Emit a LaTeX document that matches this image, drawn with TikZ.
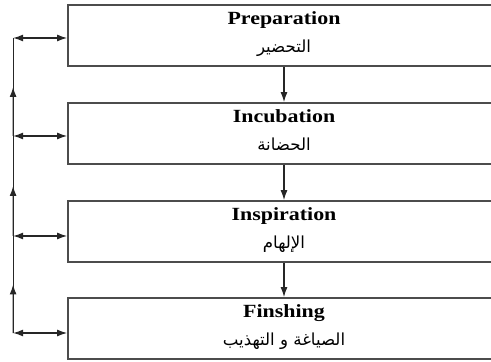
\documentclass[tikz,border=0pt]{standalone}
\usepackage{fontspec}
\usepackage{tikz}
\usetikzlibrary{arrows.meta,calc}
\TeXXeTstate=1
\newfontfamily\titlefont[FakeStretch=1.18]{Liberation Serif Bold}
\newfontfamily\arabicfont[Script=Arabic]{DejaVu Sans}

\begin{document}
\begin{tikzpicture}[x=0.5pt, y=-0.5pt, >={Latex[length=5pt,width=3.5pt]},
	stage/.style={draw=black!70, line width=0.9pt, minimum width=216pt, minimum height=30.5pt, inner sep=0pt},
	title/.style={font=\titlefont\fontsize{9.3}{11}\selectfont, anchor=base, inner sep=0pt},
	arab/.style={font=\arabicfont\fontsize{8.3}{10}\selectfont, anchor=base, inner sep=0pt},
	link/.style={black!85, line width=0.6pt}]
	\clip (0,0) rectangle (491,362);
	% the four stages
	\node[stage] (prep) at (284,35.5) {};
	\node[stage] (incu) at (284,133.5) {};
	\node[stage] (insp) at (284,231.5) {};
	\node[stage] (fini) at (284,328.5) {};
	\node[title] (prepT) at ([yshift=-10pt]prep.north) {Preparation};
	\node[arab]  (prepA) at ([yshift=-24pt]prep.north) {\beginR التحضير\endR};
	\node[title] (incuT) at ([yshift=-10pt]incu.north) {Incubation};
	\node[arab]  (incuA) at ([yshift=-24pt]incu.north) {\beginR الحضانة\endR};
	\node[title] (inspT) at ([yshift=-10pt]insp.north) {Inspiration};
	\node[arab]  (inspA) at ([yshift=-24pt]insp.north) {\beginR الإلهام\endR};
	\node[title] (finiT) at ([yshift=-10pt]fini.north) {Finshing};
	\node[arab]  (finiA) at ([yshift=-24pt]fini.north) {\beginR الصياغة و التهذيب\endR};
	% forward arrows
	\draw[link,->] (prep.south) -- (incu.north);
	\draw[link,->] (incu.south) -- (insp.north);
	\draw[link,->] (insp.south) -- (fini.north);
	% feedback line on the left
	\coordinate (l1) at ($(prep.west)+(-54,2.5)$);
	\coordinate (l2) at ($(incu.west)+(-54,2.5)$);
	\coordinate (l3) at ($(insp.west)+(-54,4.5)$);
	\coordinate (l4) at ($(fini.west)+(-54,4.5)$);
	\draw[link] (l1) -- (l4);
	\draw[link,<->] (l1) -- (l1 -| prep.west);
	\draw[link,<->] (l2) -- (l2 -| incu.west);
	\draw[link,<->] (l3) -- (l3 -| insp.west);
	\draw[link,<->] (l4) -- (l4 -| fini.west);
	\foreach \a/\b in {l2/l1, l3/l2, l4/l3}
		\draw[link,->] (\a) -- ($(\a)!0.5!(\b)$);
\end{tikzpicture}
\end{document}
